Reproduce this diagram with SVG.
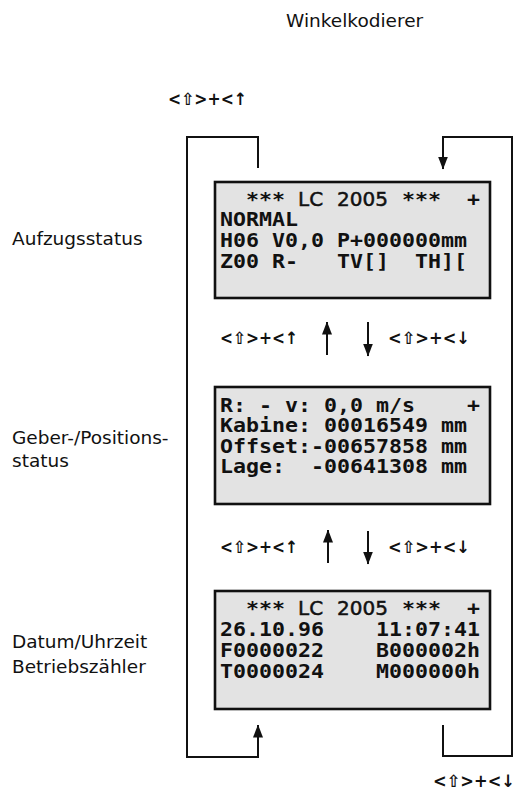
<svg xmlns="http://www.w3.org/2000/svg" width="518" height="802" viewBox="0 0 518 802">
<style>
.lbl{font-family:"DejaVu Sans",Verdana,sans-serif;font-size:18.5px;fill:#111}
.key{font-family:"DejaVu Sans",sans-serif;font-size:17px;font-weight:bold;fill:#111}
.m{font-family:"DejaVu Sans Mono",monospace;font-size:19px;font-weight:bold;fill:#111}
.lc{font-family:"DejaVu Sans",sans-serif;font-size:20px;fill:#111;stroke:#111;stroke-width:0.5}
.box{fill:#e3e3e3;stroke:#111;stroke-width:2.6}
.ln{fill:none;stroke:#111;stroke-width:2}
</style>
<defs>
<marker id="ah" viewBox="0 0 13 10" refX="12.5" refY="5" markerWidth="13" markerHeight="10" markerUnits="userSpaceOnUse" orient="auto">
<path d="M0,0 L13,5 L0,10 z" fill="#111"/>
</marker>
</defs>
<rect width="518" height="802" fill="#fff"/>

<g id="labels">
<text class="lbl" x="286" y="27">Winkelkodierer</text>
<text class="lbl" x="12" y="245">Aufzugsstatus</text>
<text class="lbl" x="12" y="444">Geber-/Positions-</text>
<text class="lbl" x="12" y="467">status</text>
<text class="lbl" x="12" y="648">Datum/Uhrzeit</text>
<text class="lbl" x="12" y="673">Betriebszähler</text>
</g>

<g id="keys">
<text class="key" x="168" y="105" textLength="79" lengthAdjust="spacingAndGlyphs">&lt;⇧&gt;+&lt;↑</text>
<text class="key" x="220" y="344" textLength="78" lengthAdjust="spacingAndGlyphs">&lt;⇧&gt;+&lt;↑</text>
<text class="key" x="388" y="344" textLength="82" lengthAdjust="spacingAndGlyphs">&lt;⇧&gt;+&lt;↓</text>
<text class="key" x="220" y="553" textLength="78" lengthAdjust="spacingAndGlyphs">&lt;⇧&gt;+&lt;↑</text>
<text class="key" x="388" y="553" textLength="82" lengthAdjust="spacingAndGlyphs">&lt;⇧&gt;+&lt;↓</text>
<text class="key" x="433" y="787" textLength="82" lengthAdjust="spacingAndGlyphs">&lt;⇧&gt;+&lt;↓</text>
</g>

<g id="connectors">
<path class="ln" d="M258,168 V137 H187 V757 H258 V725" marker-end="url(#ah)"/>
<path class="ln" d="M443,725 V756 H512 V137 H443 V169" marker-end="url(#ah)"/>
<path class="ln" d="M327,355 V322" marker-end="url(#ah)"/>
<path class="ln" d="M368,322 V356" marker-end="url(#ah)"/>
<path class="ln" d="M328,563 V530" marker-end="url(#ah)"/>
<path class="ln" d="M368,531 V564" marker-end="url(#ah)"/>
</g>

<g id="aufzugsstatus">
<rect class="box" x="215" y="182" width="275" height="116"/>
<text class="m" x="246" y="206" textLength="39" lengthAdjust="spacingAndGlyphs">***</text>
<text class="lc" x="298" y="206">LC</text>
<text class="lc" x="337" y="206">2005</text>
<text class="m" x="402" y="206" textLength="39" lengthAdjust="spacingAndGlyphs">***</text>
<text class="m" x="467" y="206" textLength="13" lengthAdjust="spacingAndGlyphs">+</text>
<text class="m" x="220" y="226" textLength="78" lengthAdjust="spacingAndGlyphs">NORMAL</text>
<text class="m" x="220" y="247" textLength="247" lengthAdjust="spacingAndGlyphs">H06 V0,0 P+000000mm</text>
<text class="m" x="220" y="268" textLength="78" lengthAdjust="spacingAndGlyphs">Z00 R-</text>
<text class="m" x="337" y="268" textLength="52" lengthAdjust="spacingAndGlyphs">TV[]</text>
<text class="m" x="415" y="268" textLength="52" lengthAdjust="spacingAndGlyphs">TH][</text>
</g>

<g id="positionsstatus">
<rect class="box" x="215" y="387" width="275" height="117"/>
<text class="m" x="220" y="412" textLength="195" lengthAdjust="spacingAndGlyphs">R: - v: 0,0 m/s</text>
<text class="m" x="467" y="412" textLength="13" lengthAdjust="spacingAndGlyphs">+</text>
<text class="m" x="220" y="432" textLength="247" lengthAdjust="spacingAndGlyphs">Kabine: 00016549 mm</text>
<text class="m" x="220" y="453" textLength="247" lengthAdjust="spacingAndGlyphs">Offset:-00657858 mm</text>
<text class="m" x="220" y="473" textLength="65" lengthAdjust="spacingAndGlyphs">Lage:</text>
<text class="m" x="311" y="473" textLength="156" lengthAdjust="spacingAndGlyphs">-00641308 mm</text>
</g>

<g id="datum">
<rect class="box" x="215" y="591" width="275" height="118"/>
<text class="m" x="246" y="615" textLength="39" lengthAdjust="spacingAndGlyphs">***</text>
<text class="lc" x="298" y="615">LC</text>
<text class="lc" x="337" y="615">2005</text>
<text class="m" x="402" y="615" textLength="39" lengthAdjust="spacingAndGlyphs">***</text>
<text class="m" x="467" y="615" textLength="13" lengthAdjust="spacingAndGlyphs">+</text>
<text class="m" x="220" y="636" textLength="104" lengthAdjust="spacingAndGlyphs">26.10.96</text>
<text class="m" x="376" y="636" textLength="104" lengthAdjust="spacingAndGlyphs">11:07:41</text>
<text class="m" x="220" y="657" textLength="104" lengthAdjust="spacingAndGlyphs">F0000022</text>
<text class="m" x="376" y="657" textLength="104" lengthAdjust="spacingAndGlyphs">B000002h</text>
<text class="m" x="220" y="678" textLength="104" lengthAdjust="spacingAndGlyphs">T0000024</text>
<text class="m" x="376" y="678" textLength="104" lengthAdjust="spacingAndGlyphs">M000000h</text>
</g>
</svg>
